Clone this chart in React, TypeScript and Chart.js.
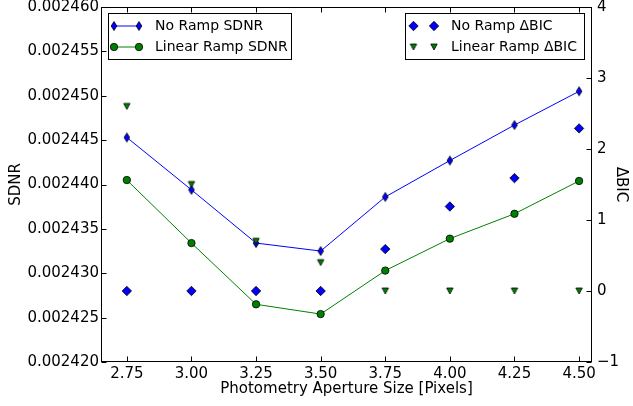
import React, { useEffect, useRef } from 'react';
import { Chart, registerables } from 'chart.js';

Chart.register(...registerables);

const apertures = [2.75, 3.0, 3.25, 3.5, 3.75, 4.0, 4.25, 4.5];
const noRampSdnr = [0.0024453, 0.0024394, 0.0024334, 0.0024325, 0.0024386, 0.0024427, 0.0024467, 0.0024505];
const linearRampSdnr = [0.0024405, 0.0024334, 0.0024265, 0.0024254, 0.0024303, 0.0024339, 0.0024367, 0.0024404];
const noRampDbic = [0, 0, 0, 0, 0.59, 1.19, 1.59, 2.29];
const linearRampDbic = [2.6, 1.5, 0.7, 0.4, 0, 0, 0, 0];

const xTicks = [2.75, 3.0, 3.25, 3.5, 3.75, 4.0, 4.25, 4.5];
const sdnrTicks = [0.00242, 0.002425, 0.00243, 0.002435, 0.00244, 0.002445, 0.00245, 0.002455, 0.00246];
const dbicTicks = [-1, 0, 1, 2, 3, 4];

const seriesLabels = ['No Ramp SDNR', 'Linear Ramp SDNR', 'No Ramp \u0394BIC', 'Linear Ramp \u0394BIC'];

const BLUE = '#0000ff';
const GREEN = '#008000';
const FONT = "'DejaVu Sans', sans-serif";

function makeThinDiamond(color: string) {
  const c = document.createElement('canvas');
  c.width = 8;
  c.height = 12;
  const g = c.getContext('2d')!;
  g.beginPath();
  g.moveTo(4, 1.5);
  g.lineTo(6.8, 6);
  g.lineTo(4, 10.5);
  g.lineTo(1.2, 6);
  g.closePath();
  g.fillStyle = color;
  g.fill();
  g.lineWidth = 0.8;
  g.strokeStyle = '#000';
  g.stroke();
  return c;
}

function makeTriangleDown(color: string) {
  const c = document.createElement('canvas');
  c.width = 10;
  c.height = 10;
  const g = c.getContext('2d')!;
  g.beginPath();
  g.moveTo(1.8, 2);
  g.lineTo(8.2, 2);
  g.lineTo(5, 8);
  g.closePath();
  g.fillStyle = color;
  g.fill();
  g.lineWidth = 0.8;
  g.strokeStyle = '#000';
  g.stroke();
  return c;
}

function toPoints(xs: number[], ys: number[]) {
  return xs.map((x, i) => ({ x, y: ys[i] }));
}

export default function App() {
  const ref = useRef<HTMLCanvasElement | null>(null);

  useEffect(() => {
    const canvas = ref.current;
    if (!canvas) return;
    const thinDiamond = makeThinDiamond(BLUE);
    const triDown = makeTriangleDown(GREEN);

    const drawCircle = (ctx: CanvasRenderingContext2D, x: number, y: number) => {
      ctx.beginPath();
      ctx.arc(x, y, 3.7, 0, Math.PI * 2);
      ctx.fillStyle = GREEN;
      ctx.fill();
      ctx.lineWidth = 0.8;
      ctx.strokeStyle = '#000';
      ctx.stroke();
    };
    const drawDiamond = (ctx: CanvasRenderingContext2D, x: number, y: number) => {
      const r = 4.7;
      ctx.beginPath();
      ctx.moveTo(x - r, y);
      ctx.lineTo(x, y - r);
      ctx.lineTo(x + r, y);
      ctx.lineTo(x, y + r);
      ctx.closePath();
      ctx.fillStyle = BLUE;
      ctx.fill();
      ctx.lineWidth = 0.8;
      ctx.strokeStyle = '#000';
      ctx.stroke();
    };

    const decorations = {
      id: 'decorations',
      afterDraw(chart: any) {
        const { ctx, chartArea, scales } = chart;
        const { left, right, top, bottom } = chartArea;
        ctx.save();
        ctx.strokeStyle = '#000';
        ctx.lineWidth = 1;
        const L = Math.round(left) + 0.5;
        const R = Math.round(right) - 0.5;
        const T = Math.round(top) + 0.5;
        const B = Math.round(bottom) - 0.5;
        ctx.strokeRect(L, T, R - L, B - T);
        const tl = 5;
        ctx.beginPath();
        xTicks.forEach((v) => {
          const px = Math.round(scales.x.getPixelForValue(v)) + 0.5;
          ctx.moveTo(px, B);
          ctx.lineTo(px, B - tl);
          ctx.moveTo(px, T);
          ctx.lineTo(px, T + tl);
        });
        sdnrTicks.forEach((v) => {
          const py = Math.round(scales.y.getPixelForValue(v)) + 0.5;
          ctx.moveTo(L, py);
          ctx.lineTo(L + tl, py);
        });
        dbicTicks.forEach((v) => {
          const py = Math.round(scales.y2.getPixelForValue(v)) + 0.5;
          ctx.moveTo(R, py);
          ctx.lineTo(R - tl, py);
        });
        ctx.stroke();

        // Legends
        ctx.font = `14px ${FONT}`;
        ctx.textBaseline = 'middle';
        ctx.textAlign = 'left';
        const row1 = 26;
        const row2 = 47;
        // left legend
        ctx.fillStyle = '#fff';
        ctx.fillRect(108.5, 13.5, 183, 46);
        ctx.strokeStyle = '#000';
        ctx.lineWidth = 1;
        ctx.strokeRect(108.5, 13.5, 183, 46);
        ctx.beginPath();
        ctx.strokeStyle = BLUE;
        ctx.moveTo(114, row1);
        ctx.lineTo(139, row1);
        ctx.stroke();
        ctx.drawImage(thinDiamond, 114 - 4, row1 - 6);
        ctx.drawImage(thinDiamond, 139 - 4, row1 - 6);
        ctx.beginPath();
        ctx.strokeStyle = GREEN;
        ctx.lineWidth = 1;
        ctx.moveTo(114, row2);
        ctx.lineTo(139, row2);
        ctx.stroke();
        drawCircle(ctx, 114, row2);
        drawCircle(ctx, 139, row2);
        ctx.fillStyle = '#000';
        ctx.fillText(seriesLabels[0], 155, row1);
        ctx.fillText(seriesLabels[1], 155, row2);

        // right legend
        ctx.fillStyle = '#fff';
        ctx.fillRect(405.5, 13.5, 179, 46);
        ctx.strokeStyle = '#000';
        ctx.lineWidth = 1;
        ctx.strokeRect(405.5, 13.5, 179, 46);
        drawDiamond(ctx, 413.5, row1);
        drawDiamond(ctx, 434, row1);
        ctx.drawImage(triDown, 413.5 - 5, row2 - 5);
        ctx.drawImage(triDown, 434 - 5, row2 - 5);
        ctx.fillStyle = '#000';
        ctx.fillText(seriesLabels[2], 451, row1);
        ctx.fillText(seriesLabels[3], 451, row2);
        ctx.restore();
      },
    };

    const zeroPad = (scale: any) => {
      scale.paddingTop = 0;
      scale.paddingBottom = 0;
      scale.paddingLeft = 0;
      scale.paddingRight = 0;
    };

    const chart = new Chart(canvas, {
      type: 'line',
      data: {
        datasets: [
          {
            label: seriesLabels[2],
            data: toPoints(apertures, noRampDbic),
            yAxisID: 'y2',
            showLine: false,
            pointStyle: 'rectRot',
            pointRadius: 4.7,
            pointBackgroundColor: BLUE,
            pointBorderColor: '#000',
            pointBorderWidth: 0.8,
            order: 0,
          },
          {
            label: seriesLabels[3],
            data: toPoints(apertures, linearRampDbic),
            yAxisID: 'y2',
            showLine: false,
            pointStyle: triDown,
            pointRadius: 4,
            order: 1,
          },
          {
            label: seriesLabels[0],
            data: toPoints(apertures, noRampSdnr),
            yAxisID: 'y',
            borderColor: BLUE,
            borderWidth: 1,
            pointStyle: thinDiamond,
            pointRadius: 4,
            order: 2,
          },
          {
            label: seriesLabels[1],
            data: toPoints(apertures, linearRampSdnr),
            yAxisID: 'y',
            borderColor: GREEN,
            borderWidth: 1,
            pointStyle: 'circle',
            pointRadius: 3.7,
            pointBackgroundColor: GREEN,
            pointBorderColor: '#000',
            pointBorderWidth: 0.8,
            order: 3,
          },
        ],
      },
      options: {
        animation: false,
        responsive: false,
        devicePixelRatio: 1,
        layout: { padding: { top: 7, left: 0, right: 0, bottom: 0 } },
        plugins: { legend: { display: false }, tooltip: { enabled: false } },
        scales: {
          x: {
            type: 'linear',
            position: 'bottom',
            min: 2.65,
            max: 4.55,
            afterBuildTicks: (s: any) => {
              s.ticks = xTicks.map((v) => ({ value: v }));
            },
            afterFit: (s: any) => {
              s.height = 44;
              zeroPad(s);
            },
            grid: { display: false, drawTicks: false },
            border: { display: false },
            ticks: {
              color: '#000',
              font: { family: FONT, size: 15 },
              padding: 3,
              maxRotation: 0,
              autoSkip: false,
              callback: (v: any) => Number(v).toFixed(2),
            },
            title: {
              display: true,
              text: 'Photometry Aperture Size [Pixels]',
              color: '#000',
              font: { family: FONT, size: 15 },
              padding: { top: 0, bottom: 8 },
            },
          },
          y: {
            type: 'linear',
            position: 'left',
            min: 0.00242,
            max: 0.00246,
            afterBuildTicks: (s: any) => {
              s.ticks = sdnrTicks.map((v) => ({ value: v }));
            },
            afterFit: (s: any) => {
              s.width = 101;
              zeroPad(s);
            },
            grid: { display: false, drawTicks: false },
            border: { display: false },
            ticks: {
              color: '#000',
              font: { family: FONT, size: 15 },
              padding: 2,
              autoSkip: false,
              callback: (v: any) => Number(v).toFixed(6),
            },
            title: {
              display: true,
              text: 'SDNR',
              color: '#000',
              font: { family: FONT, size: 15 },
              padding: { top: 7, bottom: 0 },
            },
          },
          y2: {
            type: 'linear',
            position: 'right',
            min: -1,
            max: 4,
            afterBuildTicks: (s: any) => {
              s.ticks = dbicTicks.map((v) => ({ value: v }));
            },
            afterFit: (s: any) => {
              s.width = 41;
              zeroPad(s);
            },
            grid: { display: false, drawTicks: false },
            border: { display: false },
            ticks: {
              color: '#000',
              font: { family: FONT, size: 15 },
              padding: 5,
              autoSkip: false,
              callback: (v: any) => (v < 0 ? '\u2212' + Math.abs(v) : String(v)),
            },
            title: {
              display: true,
              text: '\u0394BIC',
              color: '#000',
              font: { family: FONT, size: 15 },
              padding: { top: 3, bottom: 0 },
            },
          },
        },
      },
      plugins: [decorations],
    } as any);

    return () => chart.destroy();
  }, []);

  return (
    <div style={{ position: 'fixed', left: 0, top: 0, width: 633, height: 406, background: '#fff' }}>
      <canvas ref={ref} width={633} height={406} />
    </div>
  );
}
